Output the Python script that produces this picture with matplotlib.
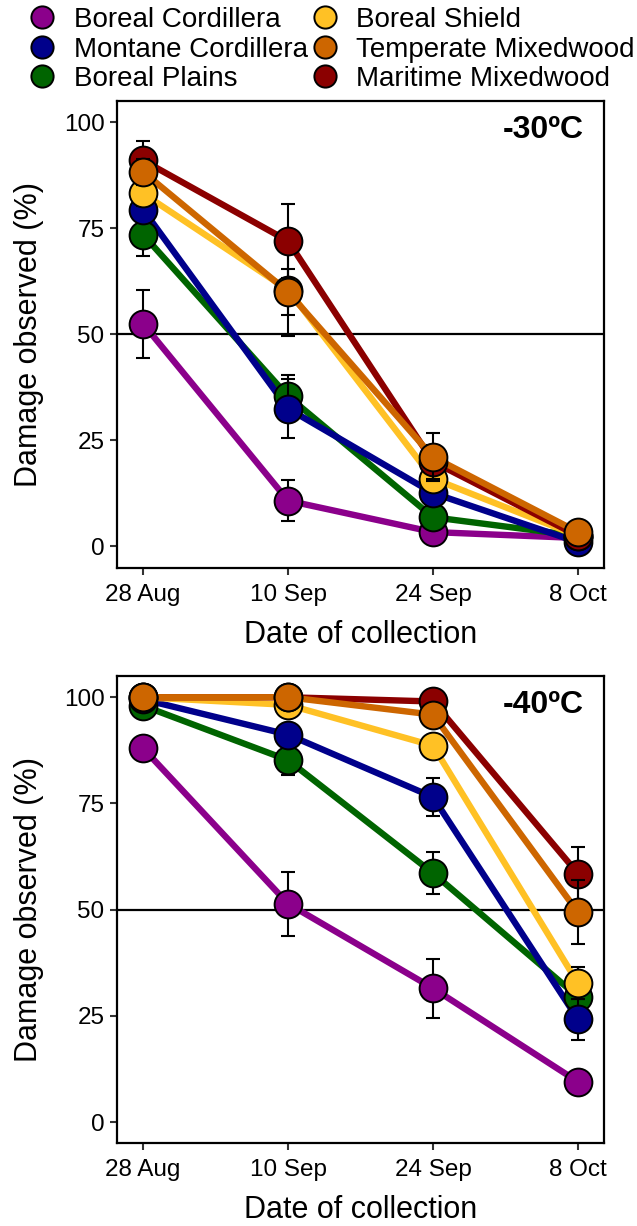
import matplotlib
matplotlib.use("Agg")
import matplotlib.pyplot as plt
from matplotlib.lines import Line2D

plt.rcParams['font.family'] = ['Liberation Sans', 'DejaVu Sans']

dates = ["28 Aug", "10 Sep", "24 Sep", "8 Oct"]
regions = ["Boreal Cordillera", "Montane Cordillera", "Boreal Plains",
           "Boreal Shield", "Temperate Mixedwood", "Maritime Mixedwood"]
colors = {"Boreal Cordillera": "#8B008B", "Montane Cordillera": "#00008B",
          "Boreal Plains": "#006400", "Boreal Shield": "#FFC125",
          "Temperate Mixedwood": "#CD6600", "Maritime Mixedwood": "#8B0000"}

# -30 C panel
m30_bc = [52.5, 10.8, 3.4, 2.0]
m30_mc = [79.4, 32.5, 12.6, 1.0]
m30_bp = [73.5, 35.4, 6.9, 2.5]
m30_bs = [83.2, 60.5, 16.0, 2.5]
m30_tm = [88.3, 60.0, 21.1, 3.4]
m30_mm = [91.0, 72.0, 20.0, 2.5]
e30_bc = [8.0, 4.8, 1.5, 1.0]
e30_mc = [3.0, 7.0, 3.0, 1.0]
e30_bp = [5.0, 5.0, 2.0, 1.0]
e30_bs = [3.0, 11.0, 3.0, 1.0]
e30_tm = [3.0, 5.5, 5.6, 1.0]
e30_mm = [4.6, 8.8, 4.0, 1.0]

# -40 C panel
m40_bc = [88.0, 51.4, 31.5, 9.5]
m40_mc = [99.5, 91.2, 76.5, 24.2]
m40_bp = [98.0, 85.2, 58.6, 29.5]
m40_bs = [100.0, 98.2, 88.6, 32.7]
m40_tm = [100.0, 100.0, 95.9, 49.4]
m40_mm = [100.0, 100.0, 99.0, 58.5]
e40_bc = [1.5, 7.5, 7.0, 1.0]
e40_mc = [1.0, 2.0, 4.4, 4.8]
e40_bp = [1.0, 3.4, 5.0, 3.0]
e40_bs = [0.0, 1.0, 2.0, 3.8]
e40_tm = [0.0, 0.0, 1.5, 7.6]
e40_mm = [0.0, 0.0, 1.0, 6.3]

panels = [
    ("-30ºC", {"Boreal Cordillera": (m30_bc, e30_bc), "Montane Cordillera": (m30_mc, e30_mc),
               "Boreal Plains": (m30_bp, e30_bp), "Boreal Shield": (m30_bs, e30_bs),
               "Temperate Mixedwood": (m30_tm, e30_tm), "Maritime Mixedwood": (m30_mm, e30_mm)}),
    ("-40ºC", {"Boreal Cordillera": (m40_bc, e40_bc), "Montane Cordillera": (m40_mc, e40_mc),
               "Boreal Plains": (m40_bp, e40_bp), "Boreal Shield": (m40_bs, e40_bs),
               "Temperate Mixedwood": (m40_tm, e40_tm), "Maritime Mixedwood": (m40_mm, e40_mm)}),
]

draw_order = ["Boreal Cordillera", "Boreal Plains", "Montane Cordillera",
              "Boreal Shield", "Maritime Mixedwood", "Temperate Mixedwood"]

W, H = 637, 1226
fig = plt.figure(figsize=(W / 100, H / 100), dpi=100)
ax_rects = [
    [117 / W, 1 - 567.7 / H, (604 - 117) / W, (567.7 - 101) / H],
    [117 / W, 1 - 1143.3 / H, (604 - 117) / W, (1143.3 - 676) / H],
]

x = list(range(len(dates)))
for rect, (title, data) in zip(ax_rects, panels):
    ax = fig.add_axes(rect)
    ax.axhline(50, color="black", lw=1.6, zorder=1)
    for i, reg in enumerate(draw_order):
        vals, errs = data[reg]
        ax.plot(x, vals, color=colors[reg], lw=4.6, zorder=2 + i * 0.01,
                solid_capstyle="butt")
    for i, reg in enumerate(draw_order):
        vals, errs = data[reg]
        ax.errorbar(x, vals, yerr=errs, fmt="none", ecolor="black",
                    elinewidth=1.5, capsize=5, capthick=1.5, zorder=3 + i * 0.1)
        ax.plot(x, vals, ls="none", marker="o", ms=20, mfc=colors[reg],
                mec="black", mew=1.4, zorder=3.05 + i * 0.1)
    ax.set_xlim(-0.18, 3.18)
    ax.set_ylim(-5, 105)
    ax.set_xticks(x)
    ax.set_xticklabels(dates)
    ax.set_yticks([0, 25, 50, 75, 100])
    ax.tick_params(axis="both", labelsize=17.5, length=5, width=1.5,
                   color="#333333", labelcolor="black")
    ax.tick_params(axis="x", pad=6.5)
    ax.tick_params(axis="y", pad=4)
    for s in ax.spines.values():
        s.set_linewidth(1.6)
        s.set_color("black")
    ax.set_xlabel("Date of collection", fontsize=22, labelpad=10)
    ax.set_ylabel("Damage observed (%)", fontsize=22, labelpad=14)
    ax.text(0.959, 0.97, title, transform=ax.transAxes, ha="right", va="top",
            fontsize=23, fontweight="bold")

handles = [Line2D([], [], ls="none", marker="o", ms=16, mfc=colors[r],
                  mec="black", mew=1.4) for r in regions]
fig.legend(handles, regions, loc="upper left", bbox_to_anchor=(25.5 / W, 1 - 7 / H),
           ncol=2, frameon=False, fontsize=20, handletextpad=0.54,
           columnspacing=0.0, labelspacing=0.13, borderpad=0.0, borderaxespad=0.0,
           handlelength=1.2)

fig.savefig("out.png", dpi=100)
